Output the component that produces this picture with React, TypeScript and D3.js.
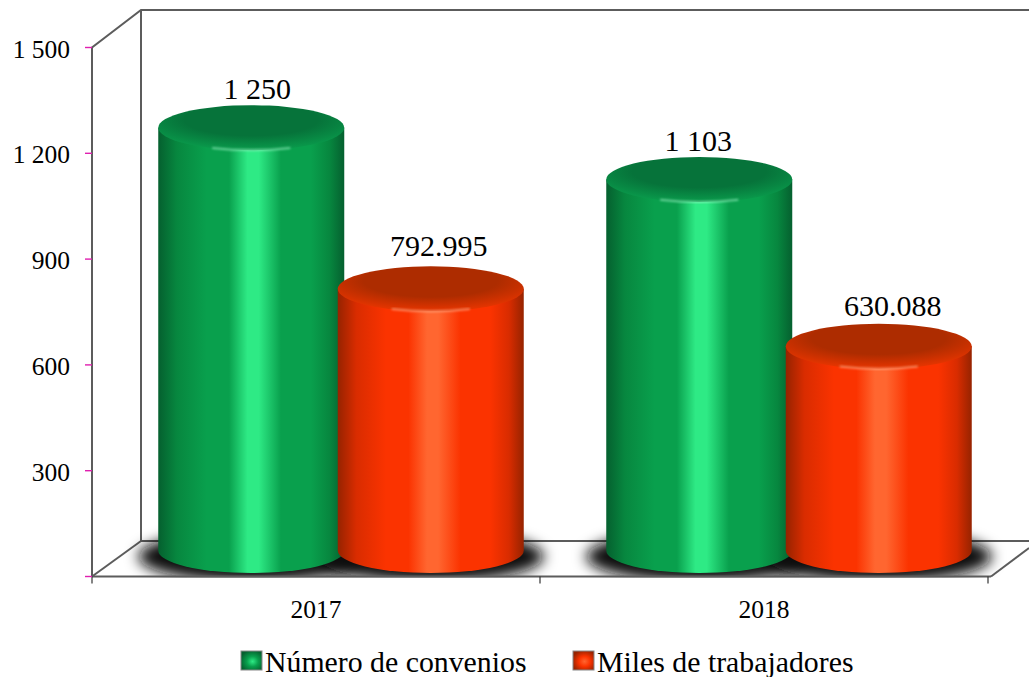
// App.tsx
import * as d3 from 'd3';

const categories = ['2017', '2018'];
const seriesNames = ['Número de convenios', 'Miles de trabajadores'];
const convenios = [1250, 1103];
const trabajadores = [792.995, 630.088];
const convenioLabels = ['1 250', '1 103'];
const trabajadorLabels = ['792.995', '630.088'];
const yTicks = [0, 300, 600, 900, 1200, 1500];
const yTickLabels = ['', '300', '600', '900', '1 200', '1 500'];

const width = 1029;
const height = 677;
const font = '"Liberation Serif", "Times New Roman", serif';

// plot box, front face of the 3D frame
const plot = { left: 92, right: 988, top: 47.5, bottom: 576.5 };
const wallDepth = { x: 49, y: -37.5 };
const floorY = 541;

const y = d3.scaleLinear().domain([0, 1500]).range([plot.bottom, plot.top]);
const x = d3.scaleBand().domain(categories).range([plot.left, plot.right]);

const rx = 93;
const ry = 22.5;
const barDx = 25;
const barDy = -8;
const baseY = y(0) - 26;
const step = 179.5;

const palettes = [
  { id: 'g', edge: '#05602f', shade: '#07873f', mid: '#09a04d', glow: '#2eea85', topDark: '#06733a', topLight: '#0aa04e', lip: '#a5f7cc' },
  { id: 'r', edge: '#962300', shade: '#d92c00', mid: '#fb3300', glow: '#ff6630', topDark: '#ad2c00', topLight: '#f03600', lip: '#ffbf9f' },
];

function bodyPath(cx: number, top: number) {
  return `M${cx - rx},${top} L${cx - rx},${baseY} A${rx},${ry} 0 0 0 ${cx + rx},${baseY} L${cx + rx},${top} Z`;
}

function Cylinder({ cx, value, p }: { cx: number; value: number; p: (typeof palettes)[number] }) {
  const top = y(value) + barDy;
  return (
    <g>
      <path d={bodyPath(cx, top)} fill={`url(#body-${p.id})`} />
      <ellipse cx={cx} cy={top} rx={rx} ry={ry} fill={`url(#top-${p.id})`} />
      <path
        d={`M${cx - rx * 0.42},${top + ry * 0.9} A${rx},${ry} 0 0 0 ${cx + rx * 0.42},${top + ry * 0.9}`}
        fill="none"
        stroke={p.lip}
        strokeWidth={2}
        opacity={0.6}
        filter="url(#soft)"
      />
    </g>
  );
}

export default function App() {
  const centers = categories.map((c) => x(c)! + x.bandwidth() / 2);
  const frame = '#5c5c5c';
  const greenLabelDx = [6, -1];
  const redLabelDx = [8, 14];
  const redLabelDy = [-33, -30];
  return (
    <svg width={width} height={height} style={{ position: 'absolute', left: 0, top: 0 }} fontFamily={font}>
      <defs>
        {palettes.map((p) => (
          <g key={p.id}>
            <linearGradient id={`body-${p.id}`} x1="0" x2="1" y1="0" y2="0">
              <stop offset="0" stopColor={p.edge} />
              <stop offset="0.1" stopColor={p.shade} />
              <stop offset="0.26" stopColor={p.mid} />
              <stop offset="0.38" stopColor={p.mid} />
              <stop offset="0.48" stopColor={p.glow} />
              <stop offset="0.54" stopColor={p.glow} />
              <stop offset="0.66" stopColor={p.mid} />
              <stop offset="0.82" stopColor={p.mid} />
              <stop offset="0.92" stopColor={p.shade} />
              <stop offset="1" stopColor={p.edge} />
            </linearGradient>
            <radialGradient id={`top-${p.id}`} cx="0.5" cy="0.32" r="0.8">
              <stop offset="0" stopColor={p.topDark} />
              <stop offset="0.45" stopColor={p.topDark} />
              <stop offset="0.9" stopColor={p.topLight} />
            </radialGradient>
            <radialGradient id={`legend-${p.id}`} cx="0.55" cy="0.55" r="0.6">
              <stop offset="0" stopColor={p.glow} />
              <stop offset="0.45" stopColor={p.mid} />
              <stop offset="1" stopColor={p.edge} />
            </radialGradient>
          </g>
        ))}
        <filter id="soft" x="-20%" y="-100%" width="140%" height="300%">
          <feGaussianBlur stdDeviation="1.2" />
        </filter>
        <filter id="shadow" x="-20%" y="-40%" width="140%" height="180%">
          <feGaussianBlur stdDeviation="7" />
        </filter>
        <clipPath id="floor-clip">
          <rect x={plot.left} y={plot.top} width={width - plot.left} height={plot.bottom - plot.top + 1} />
        </clipPath>
      </defs>

      {/* frame */}
      <g fill="none" stroke={frame} strokeWidth={2}>
        <path d={`M${plot.left},${y(0)} L${plot.left},${y(1500)} L${plot.left + wallDepth.x},${y(1500) + wallDepth.y} L${width},${y(1500) + wallDepth.y}`} />
        <path d={`M${plot.left + wallDepth.x},${y(1500) + wallDepth.y} L${plot.left + wallDepth.x},${floorY} L${width},${floorY}`} />
        <path d={`M${plot.left},${y(0)} L${plot.left + wallDepth.x},${floorY}`} />
        <path d={`M${plot.right + 3},${y(0)} L${width},${y(0) - 28.5}`} />
      </g>

      {/* shadows */}
      <g clipPath="url(#floor-clip)">
        {centers.map((c) =>
          [-step / 2, step / 2].map((s) => (
            <ellipse
              key={`${c}-${s}`}
              cx={c + barDx + s}
              cy={baseY + 6}
              rx={rx + 20}
              ry={ry + 3}
              fill="#0c0c0c"
              filter="url(#shadow)"
            />
          )),
        )}
      </g>

      {/* floor front edge and x axis */}
      <line x1={plot.left} x2={plot.right + 3} y1={y(0)} y2={y(0)} stroke={frame} strokeWidth={2} />
      {[plot.left, (plot.left + plot.right) / 2, plot.right].map((t) => (
        <line key={t} x1={t} x2={t} y1={y(0)} y2={y(0) + 7} stroke="#333" strokeWidth={1.2} />
      ))}

      {/* y axis ticks */}
      {yTicks.map((t, i) => (
        <g key={t}>
          <line x1={plot.left - 7} x2={plot.left} y1={y(t)} y2={y(t)} stroke="#e020b0" strokeWidth={1.4} />
          <text x={70} y={y(t) + 10} textAnchor="end" fontSize={25.5}>
            {yTickLabels[i]}
          </text>
        </g>
      ))}

      {/* cylinders */}
      {centers.map((c, i) => (
        <g key={categories[i]}>
          <Cylinder cx={c + barDx - step / 2} value={convenios[i]} p={palettes[0]} />
          <Cylinder cx={c + barDx + step / 2} value={trabajadores[i]} p={palettes[1]} />
          <text x={c + barDx - step / 2 + greenLabelDx[i]} y={y(convenios[i]) + barDy - 29} textAnchor="middle" fontSize={30}>
            {convenioLabels[i]}
          </text>
          <text x={c + barDx + step / 2 + redLabelDx[i]} y={y(trabajadores[i]) + barDy + redLabelDy[i]} textAnchor="middle" fontSize={30}>
            {trabajadorLabels[i]}
          </text>
          <text x={c} y={618} textAnchor="middle" fontSize={25.5}>
            {categories[i]}
          </text>
        </g>
      ))}

      {/* legend */}
      {seriesNames.map((name, i) => {
        const lx = [241, 573][i];
        return (
          <g key={name}>
            <rect x={lx} y={651} width={21} height={19} fill={`url(#legend-${palettes[i].id})`} stroke="#888" strokeWidth={1} />
            <text x={lx + 24} y={672} fontSize={29.8}>
              {name}
            </text>
          </g>
        );
      })}
    </svg>
  );
}
